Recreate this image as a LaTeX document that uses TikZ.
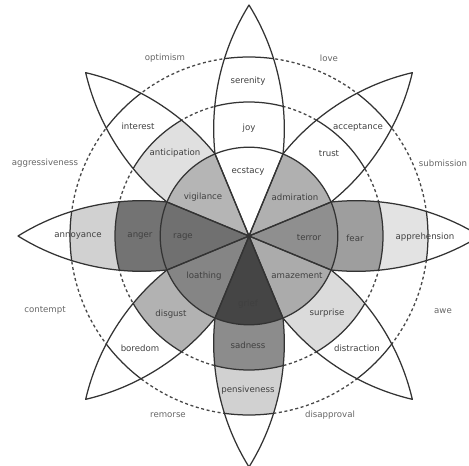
\documentclass[tikz,border=0pt]{standalone}
\usepackage{fontspec}
\setmainfont{DejaVu Sans}
\definecolor{cAdmiration}{gray}{0.69}
\definecolor{cTerror}{gray}{0.56}
\definecolor{cFear}{gray}{0.62}
\definecolor{cApprehension}{gray}{0.89}
\definecolor{cAmazement}{gray}{0.67}
\definecolor{cSurprise}{gray}{0.86}
\definecolor{cGrief}{gray}{0.27}
\definecolor{cSadness}{gray}{0.55}
\definecolor{cPensiveness}{gray}{0.82}
\definecolor{cLoathing}{gray}{0.52}
\definecolor{cDisgust}{gray}{0.70}
\definecolor{cRage}{gray}{0.44}
\definecolor{cAnger}{gray}{0.45}
\definecolor{cAnnoyance}{gray}{0.82}
\definecolor{cVigilance}{gray}{0.71}
\definecolor{cAnticipation}{gray}{0.88}
\newcommand\petal{(-22.5:88.8) arc[start angle=-96.12,end angle=-58.18,radius=235pt] arc[start angle=58.18,end angle=96.12,radius=235pt] -- (0,0) -- cycle}
\begin{document}
\begin{tikzpicture}[x=1pt,y=1pt,line join=round]
        \tikzstyle{every node}=[font=\fontsize{8.6}{10}\selectfont,text=black!75,inner sep=0pt]
        \tikzstyle{dyad}=[text=black!60]
        \tikzstyle{rim}=[draw=black!80,line width=1.25pt]
        \tikzstyle{ring}=[draw=black!72,line width=1.3pt,dash pattern=on 3pt off 2.6pt]
        \useasboundingbox (-249,-230) rectangle (220,236);
        \clip (-249,-230) rectangle (220,236);
        \fill[white] (-249,-230) rectangle (220,236);
        \draw[ring] (0,0) circle (134pt) (0,0) circle (179pt);
        \foreach \a/\cin/\cmid/\cout in {90/white/white/white,45/cAdmiration/white/white,0/cTerror/cFear/cApprehension,-45/cAmazement/cSurprise/white,-90/cGrief/cSadness/cPensiveness,-135/cLoathing/cDisgust/white,180/cRage/cAnger/cAnnoyance,135/cVigilance/cAnticipation/white}{
            \begin{scope}[rotate=\a]
                \fill[white] \petal;
                \clip \petal;
                \fill[\cout] (0,0) circle (179pt);
                \fill[\cmid] (0,0) circle (134pt);
                \fill[\cin] (0,0) circle (88.8pt);
            \end{scope}
        }
        \node (ecstacy) at (-1,65) {ecstacy};
        \node (admiration) at (46,39) {admiration};
        \node (terror) at (60,-2) {terror};
        \node (amazement) at (48,-40) {amazement};
        \node (grief) at (-1,-68) {grief};
        \node (loathing) at (-45,-40) {loathing};
        \node (rage) at (-66,-1) {rage};
        \node (vigilance) at (-46,39) {vigilance};
        \node (joy) at (0,108) {joy};
        \node (trust) at (80,82) {trust};
        \node (fear) at (106,-2) {fear};
        \node (surprise) at (78,-77) {surprise};
        \node (sadness) at (-1,-109) {sadness};
        \node (disgust) at (-78,-78) {disgust};
        \node (anger) at (-109,0) {anger};
        \node (anticipation) at (-74,83) {anticipation};
        \node (serenity) at (-1,155) {serenity};
        \node (acceptance) at (109,109) {acceptance};
        \node (apprehension) at (176,-1) {apprehension};
        \node (distraction) at (108,-112) {distraction};
        \node (pensiveness) at (-1,-154) {pensiveness};
        \node (boredom) at (-109,-112) {boredom};
        \node (annoyance) at (-171,0) {annoyance};
        \node (interest) at (-111,110) {interest};
        \node[dyad] (optimism) at (-84,178) {optimism};
        \node[dyad] (love) at (80,178) {love};
        \node[dyad] (submission) at (194,73) {submission};
        \node[dyad] (awe) at (194,-75) {awe};
        \node[dyad] (disapproval) at (81,-179) {disapproval};
        \node[dyad] (remorse) at (-81,-179) {remorse};
        \node[dyad] (contempt) at (-204,-74) {contempt};
        \node[dyad] (aggressiveness) at (-204,73) {aggressiveness};
        \foreach \a in {0,45,...,315}{
            \begin{scope}[rotate=\a]
                \draw[rim] \petal;
                \begin{scope}
                    \clip \petal;
                    \draw[rim] (0,0) circle (134pt) (0,0) circle (179pt);
                \end{scope}
            \end{scope}
        }
        \draw[rim] (0,0) circle (88.8pt);
\end{tikzpicture}
\end{document}
